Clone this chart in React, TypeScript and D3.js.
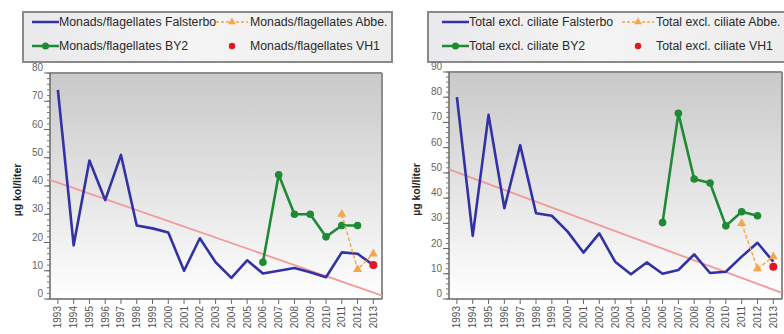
import React from "react";
import * as d3 from "d3";

const years = d3.range(1993, 2014);

// Monads/flagellates (µg kol/liter)
const monFalsterbo = [74, 19, 49, 35, 51, 26, 25, 23.5, 10, 21.5, 13, 7.5, 13.7, 9, 10, 11, 9.5, 7.7, 16.5, 16, 12];
const monBY2Years = [2006, 2007, 2008, 2009, 2010, 2011, 2012];
const monBY2 = [13, 44, 30, 30, 22, 26, 26];
const monAbbeYears = [2011, 2012, 2013];
const monAbbe = [30, 10.5, 16];
const monVH1Years = [2013];
const monVH1 = [12];
const monTrend = [42.2, 1.2];

// Total excl. ciliates (µg kol/liter)
const totFalsterbo = [80, 25, 73, 36, 61, 34, 33, 26.7, 18.4, 26, 14.8, 9.8, 14.5, 10, 11.5, 17.7, 10.3, 10.8, 16.8, 22.3, 14.8];
const totBY2Years = [2006, 2007, 2008, 2009, 2010, 2011, 2012];
const totBY2 = [30.3, 73.6, 47.6, 46, 29, 34.6, 33];
const totAbbeYears = [2011, 2012, 2013];
const totAbbe = [30, 12, 16.8];
const totVH1Years = [2013];
const totVH1 = [12.8];
const totTrend = [51.4, 2.4];

const monLabels = ["Monads/flagellates Falsterbo", "Monads/flagellates Abbe.", "Monads/flagellates BY2", "Monads/flagellates VH1"];
const totLabels = ["Total excl. ciliate Falsterbo", "Total excl. ciliate Abbe.", "Total excl. ciliate BY2", "Total excl. ciliate VH1"];
const yTitle = "µg kol/liter";

const BLUE = "#3232a6";
const GREEN = "#1f8a34";
const ORANGE = "#f5a54a";
const RED = "#e5141e";
const TREND = "#f29a9a";
const FONT = "'Liberation Sans', Arial, sans-serif";

type PanelProps = {
  id: string;
  left: number;
  right: number;
  top: number;
  bottom: number;
  yMax: number;
  falsterbo: number[];
  by2Years: number[];
  by2: number[];
  abbeYears: number[];
  abbe: number[];
  vh1Years: number[];
  vh1: number[];
  trend: number[];
  labels: string[];
  legend: { x: number; w: number; s1: number; t1: number; s2: number; t2: number };
};

function Triangle({ x, y, r, fill }: { x: number; y: number; r: number; fill: string }) {
  const sym = d3.symbol().type(d3.symbolTriangle).size(r * r * 2.2)();
  return <path d={sym || ""} transform={`translate(${x},${y})`} fill={fill} />;
}

function Panel(p: PanelProps) {
  const x = d3.scaleLinear().domain([1992.5, 2013.55]).range([p.left, p.right]);
  const y = d3.scaleLinear().domain([0, p.yMax]).range([p.bottom, p.top]);
  const line = d3
    .line<[number, number]>()
    .x((d) => x(d[0]))
    .y((d) => y(d[1]));

  const falsterboPts = years.map((yr, i) => [yr, p.falsterbo[i]] as [number, number]);
  const by2Pts = p.by2Years.map((yr, i) => [yr, p.by2[i]] as [number, number]);
  const abbePts = p.abbeYears.map((yr, i) => [yr, p.abbe[i]] as [number, number]);
  const vh1Pts = p.vh1Years.map((yr, i) => [yr, p.vh1[i]] as [number, number]);
  const trendPts: [number, number][] = [
    [x.domain()[0], p.trend[0]],
    [x.domain()[1], p.trend[1]],
  ];

  const majors = d3.range(0, p.yMax + 1, 10);
  const minors = d3.range(0, p.yMax + 0.01, 2);
  const lg = p.legend;
  const r1 = 22;
  const r2 = 46;
  const gid = `bg-${p.id}`;
  const lgid = `lg-${p.id}`;
  const lfs = 12.3;

  return (
    <g>
      <defs>
        <linearGradient id={gid} x1="0" y1="0" x2="0" y2="1">
          <stop offset="0%" stopColor="#c9c9c9" />
          <stop offset="55%" stopColor="#e6e6e6" />
          <stop offset="100%" stopColor="#ffffff" />
        </linearGradient>
        <linearGradient id={lgid} x1="0" y1="0" x2="1" y2="0">
          <stop offset="0%" stopColor="#e9e9ec" />
          <stop offset="45%" stopColor="#f4f4f4" />
          <stop offset="100%" stopColor="#ededed" />
        </linearGradient>
      </defs>

      {/* legend */}
      <rect x={lg.x} y={12} width={lg.w} height={50} fill={`url(#${lgid})`} stroke="#8a8a8a" strokeWidth={2} />
      <line x1={lg.s1} x2={lg.t1} y1={r1} y2={r1} stroke={BLUE} strokeWidth={2.5} />
      <text x={lg.t1} y={r1} dy="0.35em" fontSize={lfs} fill="#2a2a2a" fontFamily={FONT}>{p.labels[0]}</text>
      <line x1={lg.s2} x2={lg.t2 - 2} y1={r1} y2={r1} stroke={ORANGE} strokeWidth={1.3} strokeDasharray="3,2" />
      <Triangle x={(lg.s2 + lg.t2 - 2) / 2} y={r1} r={3.5} fill={ORANGE} />
      <text x={lg.t2} y={r1} dy="0.35em" fontSize={lfs} fill="#2a2a2a" fontFamily={FONT}>{p.labels[1]}</text>
      <line x1={lg.s1} x2={lg.t1} y1={r2} y2={r2} stroke={GREEN} strokeWidth={2.5} />
      <circle cx={(lg.s1 + lg.t1) / 2} cy={r2} r={3.5} fill={GREEN} />
      <text x={lg.t1} y={r2} dy="0.35em" fontSize={lfs} fill="#2a2a2a" fontFamily={FONT}>{p.labels[2]}</text>
      <circle cx={(lg.s2 + lg.t2 - 2) / 2} cy={r2} r={3.2} fill={RED} />
      <text x={lg.t2} y={r2} dy="0.35em" fontSize={lfs} fill="#2a2a2a" fontFamily={FONT}>{p.labels[3]}</text>

      {/* plot area */}
      <rect x={p.left} y={p.top} width={p.right - p.left} height={p.bottom - p.top} fill={`url(#${gid})`} />
      <line x1={p.left} x2={p.right} y1={p.top} y2={p.top} stroke="#8c8c8c" strokeWidth={2} />
      <line x1={p.right} x2={p.right} y1={p.top} y2={p.bottom} stroke="#8c8c8c" strokeWidth={2} />

      {/* y axis */}
      <line x1={p.left} x2={p.left} y1={p.top} y2={p.bottom} stroke="#666" strokeWidth={1.5} />
      {minors.map((v) => (
        <line key={`mi${v}`} x1={p.left - 3} x2={p.left} y1={y(v)} y2={y(v)} stroke="#777" strokeWidth={1} />
      ))}
      {majors.map((v) => (
        <g key={`ma${v}`}>
          <line x1={p.left - 6} x2={p.left} y1={y(v)} y2={y(v)} stroke="#666" strokeWidth={1} />
          <text x={p.left - 7} y={y(v) - 2} textAnchor="end" fontSize={10} fill="#666" fontFamily={FONT}>{v}</text>
        </g>
      ))}
      <text
        transform={`translate(${p.left - 33},${(p.top + p.bottom) / 2 + 4}) rotate(-90)`}
        textAnchor="middle"
        dy="0.35em"
        fontSize={10.5}
        fontWeight="bold"
        fill="#222"
        fontFamily={FONT}
      >
        {yTitle}
      </text>

      {/* x axis */}
      <line x1={p.left} x2={p.right} y1={p.bottom} y2={p.bottom} stroke="#666" strokeWidth={1.5} />
      {years.map((yr) => (
        <g key={`x${yr}`}>
          <line x1={x(yr)} x2={x(yr)} y1={p.bottom} y2={p.bottom + 5} stroke="#666" strokeWidth={1} />
          <text
            transform={`translate(${x(yr)},${p.bottom + 7}) rotate(-90)`}
            textAnchor="end"
            dy="0.35em"
            fontSize={10}
            fill="#555"
            fontFamily={FONT}
          >
            {yr}
          </text>
        </g>
      ))}

      {/* series */}
      <path d={line(trendPts) || ""} fill="none" stroke={TREND} strokeWidth={1.8} />
      <path d={line(falsterboPts) || ""} fill="none" stroke={BLUE} strokeWidth={2.6} strokeLinejoin="round" />
      <path d={line(by2Pts) || ""} fill="none" stroke={GREEN} strokeWidth={2.6} strokeLinejoin="round" />
      {by2Pts.map((d, i) => (
        <circle key={`g${i}`} cx={x(d[0])} cy={y(d[1])} r={3.8} fill={GREEN} />
      ))}
      <path d={line(abbePts) || ""} fill="none" stroke={ORANGE} strokeWidth={1.4} strokeDasharray="4,2" />
      {abbePts.map((d, i) => (
        <Triangle key={`o${i}`} x={x(d[0])} y={y(d[1])} r={4} fill={ORANGE} />
      ))}
      {vh1Pts.map((d, i) => (
        <circle key={`r${i}`} cx={x(d[0])} cy={y(d[1])} r={4} fill={RED} />
      ))}
    </g>
  );
}

export default function App() {
  return (
    <svg
      width={784}
      height={334}
      style={{ position: "absolute", left: 0, top: 0, background: "#fff" }}
    >
      <rect width={784} height={334} fill="#fff" />
      <Panel
        id="mon"
        left={50}
        right={382}
        top={73}
        bottom={299}
        yMax={80}
        falsterbo={monFalsterbo}
        by2Years={monBY2Years}
        by2={monBY2}
        abbeYears={monAbbeYears}
        abbe={monAbbe}
        vh1Years={monVH1Years}
        vh1={monVH1}
        trend={monTrend}
        labels={monLabels}
        legend={{ x: 23, w: 369, s1: 32, t1: 59, s2: 216, t2: 250 }}
      />
      <Panel
        id="tot"
        left={449}
        right={782}
        top={72}
        bottom={299}
        yMax={90}
        falsterbo={totFalsterbo}
        by2Years={totBY2Years}
        by2={totBY2}
        abbeYears={totAbbeYears}
        abbe={totAbbe}
        vh1Years={totVH1Years}
        vh1={totVH1}
        trend={totTrend}
        labels={totLabels}
        legend={{ x: 428, w: 362, s1: 442, t1: 469, s2: 622, t2: 656 }}
      />
    </svg>
  );
}
